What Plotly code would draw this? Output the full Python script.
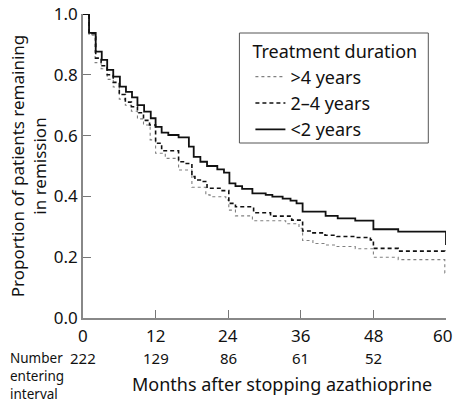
import plotly.graph_objects as go

# Kaplan-Meier style step data (months, proportion remaining)
months_lt2 = [0, 1, 2.1, 3.1, 4, 5, 6.1, 7.1, 8.1, 9, 10.1, 11.2, 12, 13, 14.1, 15.8, 17.5, 18.3,
              19.4, 20.5, 22.2, 23.3, 24.2, 25.2, 26.3, 28, 30.2, 31.3, 33, 34.3, 35.3, 36.3,
              40.1, 42.1, 45, 48, 52.1, 60]
surv_lt2 = [1.0, 0.938, 0.876, 0.849, 0.816, 0.794, 0.761, 0.744, 0.726, 0.70, 0.679, 0.657, 0.629,
            0.61, 0.602, 0.594, 0.564, 0.53, 0.514, 0.50, 0.489, 0.478, 0.443, 0.434, 0.425,
            0.41, 0.405, 0.399, 0.393, 0.386, 0.377, 0.35, 0.336, 0.328, 0.32, 0.292, 0.284, 0.24]

months_2to4 = [0, 1, 2.1, 3, 4, 5, 6, 7, 8, 9, 10, 11, 12, 13, 15.8, 16.8, 18, 18.5, 19.4, 20.5,
               23, 24.1, 25.2, 28.2, 31, 34.5, 36.3, 38, 40, 42, 45, 47.5, 48, 52.1, 59.8]
surv_2to4 = [1.0, 0.935, 0.855, 0.83, 0.80, 0.775, 0.735, 0.71, 0.695, 0.675, 0.65, 0.635, 0.575,
             0.55, 0.514, 0.508, 0.465, 0.454, 0.449, 0.427, 0.419, 0.377, 0.366, 0.346, 0.335,
             0.322, 0.286, 0.28, 0.272, 0.268, 0.265, 0.257, 0.229, 0.22, 0.215]

months_gt4 = [0, 1, 2, 3, 4, 5, 6, 7, 8, 9, 10, 11.1, 12, 13.6, 15.8, 18, 20.3, 21, 23.6, 24.1,
              25.2, 28, 33.5, 35.7, 36.3, 38, 40, 42, 45, 48, 52.1, 59.8]
surv_gt4 = [1.0, 0.93, 0.84, 0.82, 0.785, 0.76, 0.72, 0.70, 0.68, 0.655, 0.635, 0.586, 0.542,
            0.525, 0.487, 0.43, 0.405, 0.399, 0.388, 0.355, 0.336, 0.32, 0.31, 0.295, 0.255,
            0.245, 0.24, 0.235, 0.228, 0.2, 0.192, 0.148]

series_names = [">4 years", "2\u20134 years", "<2 years"]

x_ticks = [0, 12, 24, 36, 48, 60]
x_tick_text = ["0", "12", "24", "36", "48", "60"]
y_ticks = [0.0, 0.2, 0.4, 0.6, 0.8, 1.0]
y_tick_text = ["0.0", "0.2", "0.4", "0.6", "0.8", "1.0"]

count_months = [0, 12, 24, 36, 48]
count_values = [222, 129, 86, 61, 52]

FONT = "Noto Sans"
OFF = 0  # body margin removed by post_script
FW, FH = 455 - OFF, 403 - OFF
ML, MT = 82.5 - OFF, 14 - OFF
MR, MB = 455 - 445.7, 403 - 318
W = FW - ML - MR
H = FH - MT - MB


def px(page_x):
    return (page_x - OFF - ML) / W


def py(page_y):
    return (FH - MB - (page_y - OFF)) / H


def ext(m, s):
    return list(m) + [60], list(s) + [s[-1]]


fig = go.Figure()
mx, sy = ext(months_gt4, surv_gt4)
fig.add_trace(go.Scatter(x=mx, y=sy, mode="lines", line_shape="hv", name=series_names[0],
                         line=dict(color="#808080", width=1.1, dash="dot")))
mx, sy = ext(months_2to4, surv_2to4)
fig.add_trace(go.Scatter(x=mx, y=sy, mode="lines", line_shape="hv", name=series_names[1],
                         line=dict(color="#111111", width=1.6, dash="4px,3px")))
fig.add_trace(go.Scatter(x=months_lt2, y=surv_lt2, mode="lines", line_shape="hv", name=series_names[2],
                         line=dict(color="#111111", width=1.8)))

anns = []
# x tick labels (drawn as annotations so the last one can sit inside the page)
for v, t in zip(x_ticks, x_tick_text):
    anns.append(dict(x=v, y=py(335), xref="x", yref="paper", text=t, showarrow=False,
                     font=dict(size=17), yanchor="middle", xanchor="center",
                     xshift=(-4 if v == x_ticks[-1] else 0)))
for m, c in zip(count_months, count_values):
    anns.append(dict(x=m, y=py(358), xref="x", yref="paper", text=str(c), showarrow=False,
                     font=dict(size=15), yanchor="middle", xanchor="center"))
for txt, yy in [("Number", 358), ("entering", 376), ("interval", 394)]:
    anns.append(dict(x=px(7), y=py(yy), xref="paper", yref="paper", text=txt, showarrow=False,
                     font=dict(size=13.5), xanchor="left", yanchor="middle"))
anns.append(dict(x=px(282), y=py(384), xref="paper", yref="paper",
                 text="Months after stopping azathioprine", showarrow=False,
                 font=dict(size=18), xanchor="center", yanchor="middle"))

# legend frame
shapes = [dict(type="rect", xref="paper", yref="paper", x0=px(239), x1=px(428),
               y0=py(143), y1=py(33), line=dict(color="#555555", width=1), layer="above")]

fig.update_layout(
    width=FW, height=FH,
    margin=dict(l=ML, r=MR, t=MT, b=MB, autoexpand=False),
    paper_bgcolor="white", plot_bgcolor="white",
    font=dict(family=FONT, color="#111", size=17),
    showlegend=True,
    legend=dict(
        x=px(250), y=py(35), xanchor="left", yanchor="top",
        borderwidth=0, bgcolor="rgba(0,0,0,0)",
        title=dict(text="Treatment duration", font=dict(size=18, family=FONT)),
        font=dict(size=18, family=FONT), tracegroupgap=0,
    ),
    xaxis=dict(range=[0, 60], tickvals=x_ticks, showticklabels=False, ticks="inside", ticklen=8,
               tickcolor="#777", showline=True, linecolor="#888", linewidth=1.5, showgrid=False,
               zeroline=False, automargin=False, fixedrange=True),
    yaxis=dict(range=[0, 1], tickvals=y_ticks, ticktext=y_tick_text, ticks="inside", ticklen=8,
               tickcolor="#777", showline=True, linecolor="#888", linewidth=1.5, showgrid=False,
               zeroline=False, tickfont=dict(size=17), automargin=False,
               ticklabeloverflow="allow",
               title=dict(text="Proportion of patients remaining<br>in remission",
                          font=dict(size=17), standoff=3)),
    annotations=anns,
    shapes=shapes,
)

fig.write_html("out.html", config={"displayModeBar": False},
               post_script="document.body.style.margin='0';")
